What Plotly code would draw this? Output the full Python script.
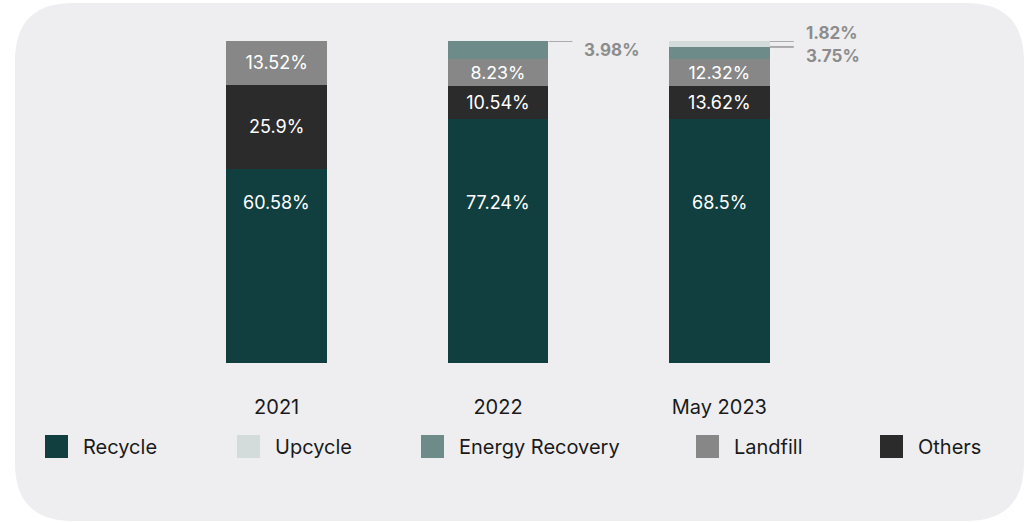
import plotly.graph_objects as go

categories = ["2021", "2022", "May 2023"]
series_names = ["Recycle", "Upcycle", "Energy Recovery", "Landfill", "Others"]

# Segment heights as drawn in the reference (percent of the bar)
recycle = [60.34, 75.7, 75.7]
others = [26.0, 10.35, 10.35]
landfill = [13.66, 8.3, 8.3]
energy_recovery = [0, 5.65, 3.8]
upcycle = [0, 0, 1.85]

# Value labels printed on the reference
recycle_labels = ["60.58%", "77.24%", "68.5%"]
others_labels = ["25.9%", "10.54%", "13.62%"]
landfill_labels = ["13.52%", "8.23%", "12.32%"]
energy_recovery_labels = ["", "3.98%", "3.75%"]
upcycle_labels = ["", "", "1.82%"]

colors = {
    "Recycle": "#113F40",
    "Upcycle": "#D3DBDB",
    "Energy Recovery": "#6D8B89",
    "Landfill": "#878787",
    "Others": "#2B2B2B",
}

FONT = "Inter"
W, H = 1030, 523
L, R, T, B = 166, 830, 41, 363
PW, PH = R - L, B - T


def px(x):
    return (x - L) / PW


def py(y):
    return (B - y) / PH


xs = list(range(len(categories)))
fig = go.Figure()

stack = [
    ("Recycle", recycle, None),
    ("Others", others, others_labels),
    ("Landfill", landfill, landfill_labels),
    ("Energy Recovery", energy_recovery, None),
    ("Upcycle", upcycle, None),
]
for name, vals, labels in stack:
    fig.add_trace(go.Bar(
        x=xs, y=vals, name=name,
        marker=dict(color=colors[name], line=dict(width=0)),
        width=0.456,
        text=labels,
        textposition="inside" if labels else "none",
        insidetextanchor="middle",
        textangle=0,
        textfont=dict(family=FONT, size=18, color="white"),
        showlegend=False,
        hoverinfo="skip",
    ))

annotations = []
shapes = []

# Recycle labels (placed at mid-height of the axis)
for i, t in zip(xs, recycle_labels):
    annotations.append(dict(x=i, y=50, xref="x", yref="y", text=t,
                            showarrow=False,
                            font=dict(family=FONT, size=18, color="white")))

# Outside labels with leader lines for small segments
half = 0.456 / 2
line_len = 24 / (PW / 3)
for i in xs:
    base = recycle[i] + others[i] + landfill[i]
    e_top = min(base + energy_recovery[i], 100)
    u_top = min(e_top + upcycle[i], 100)
    items = []
    if energy_recovery[i]:
        items.append((e_top, energy_recovery_labels[i], 9))
    if upcycle[i]:
        items.append((u_top, upcycle_labels[i], -8))
    for top, t, shift in items:
        shapes.append(dict(type="line", xref="x", yref="y",
                           x0=i + half, x1=i + half + line_len, y0=top, y1=top,
                           line=dict(color="#ABABAB", width=2)))
        annotations.append(dict(x=i + half, y=top, xref="x", yref="y",
                                text=f"<b>{t}</b>", showarrow=False,
                                xanchor="left", xshift=34, yshift=-shift,
                                font=dict(family=FONT, size=17, color="#8C8C8C")))

# Background rounded panel
x0, x1, y0, y1, r = 15, 1024, 3, 521, 58
pts = [
    ("M", [(x0 + r, y0)]),
    ("L", [(x1 - r, y0)]),
    ("Q", [(x1, y0), (x1, y0 + r)]),
    ("L", [(x1, y1 - r)]),
    ("Q", [(x1, y1), (x1 - r, y1)]),
    ("L", [(x0 + r, y1)]),
    ("Q", [(x0, y1), (x0, y1 - r)]),
    ("L", [(x0, y0 + r)]),
    ("Q", [(x0, y0), (x0 + r, y0)]),
]
path = " ".join(cmd + " " + " ".join(f"{px(a):.5f},{py(b):.5f}" for a, b in p) for cmd, p in pts) + " Z"
shapes.append(dict(type="path", xref="paper", yref="paper", path=path,
                   fillcolor="#EEEEF0", line=dict(width=0), layer="below"))

# Custom legend
leg_x = [45, 237, 421, 696, 880]
leg_y = 446.5
sq = 23
for name, lx in zip(series_names, leg_x):
    shapes.append(dict(type="rect", xref="paper", yref="paper",
                       x0=px(lx), x1=px(lx + sq), y0=py(leg_y - sq / 2), y1=py(leg_y + sq / 2),
                       fillcolor=colors[name], line=dict(width=0)))
    annotations.append(dict(x=px(lx + sq + 13), y=py(leg_y), xref="paper", yref="paper",
                            text=name, showarrow=False, xanchor="left", yanchor="middle",
                            font=dict(family=FONT, size=20, color="#1A1A1A")))

fig.update_layout(
    width=W, height=H,
    margin=dict(l=L, r=W - R, t=T, b=H - B, pad=0),
    barmode="stack",
    paper_bgcolor="white",
    plot_bgcolor="rgba(0,0,0,0)",
    shapes=shapes,
    annotations=annotations,
    xaxis=dict(range=[-0.5, 2.5], tickvals=xs, ticktext=categories,
               showgrid=False, zeroline=False, showline=False,
               ticks="", ticklabelstandoff=30,
               tickfont=dict(family=FONT, size=20, color="#1A1A1A")),
    yaxis=dict(range=[0, 100], showgrid=False, zeroline=False, showline=False,
               showticklabels=False, ticks=""),
    font=dict(family=FONT),
)

fig.write_html("out.html", config={"displayModeBar": False},
               post_script="document.body.style.margin='0px';")
